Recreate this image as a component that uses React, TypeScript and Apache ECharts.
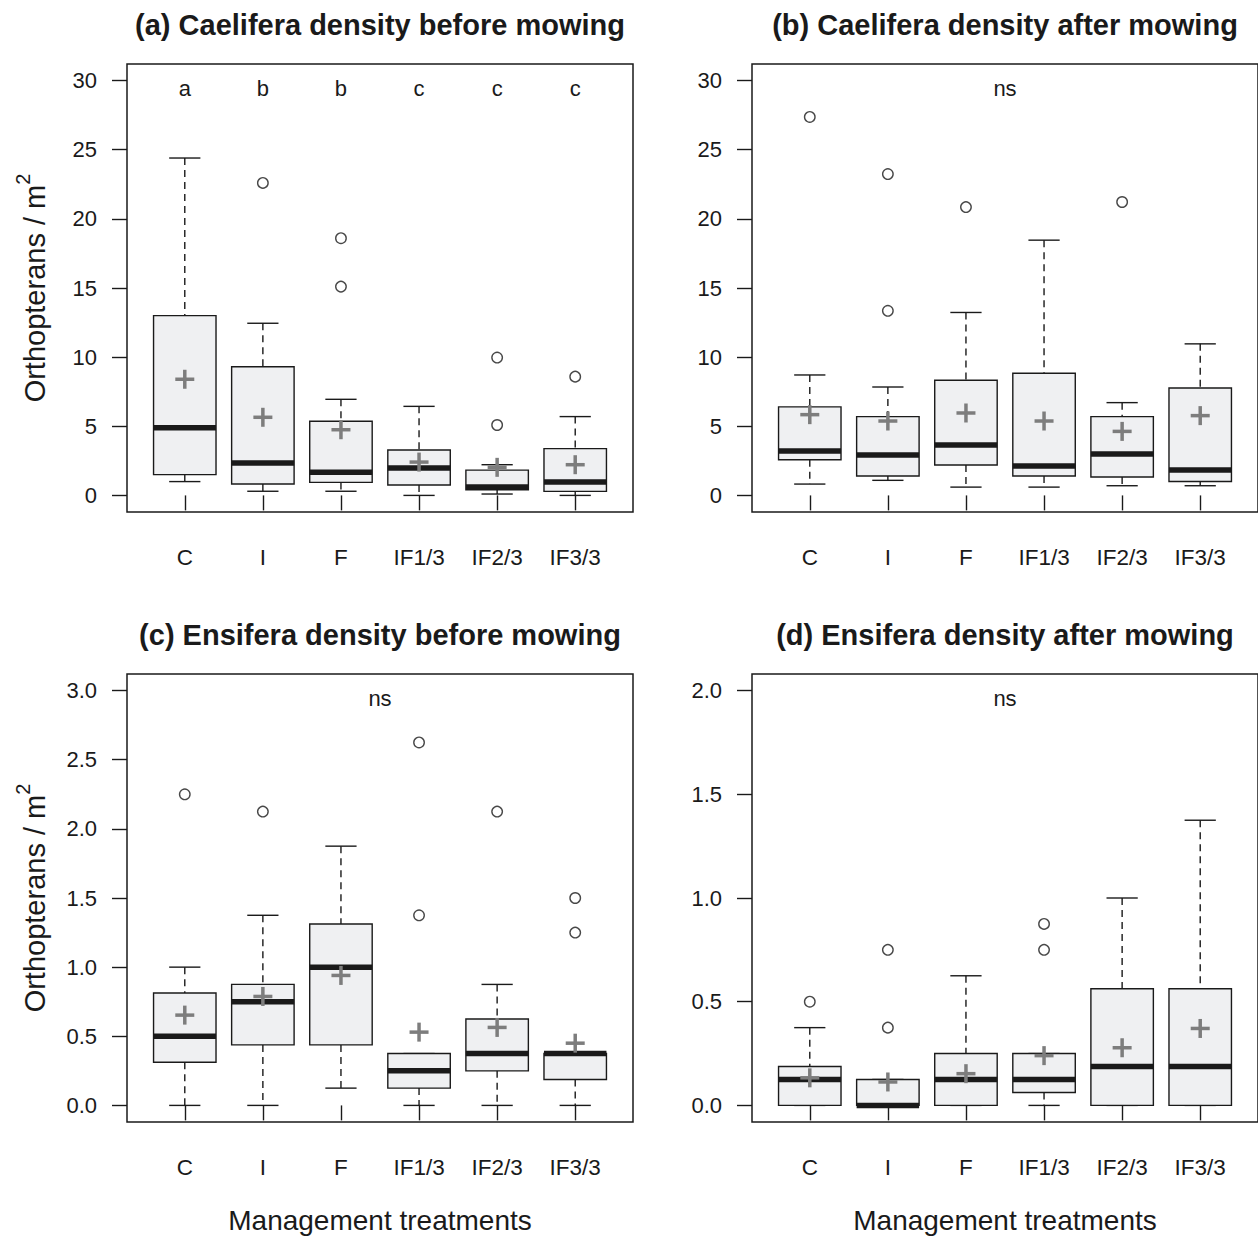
import React, { useEffect, useRef } from "react";
import * as echarts from "echarts";

// ---------- data ----------
const categories = ["C", "I", "F", "IF1/3", "IF2/3", "IF3/3"];

// [lower whisker, Q1, median, Q3, upper whisker]
const aBoxes = [
  [1.0, 1.5, 4.9, 13.0, 24.4],
  [0.3, 0.82, 2.35, 9.3, 12.45],
  [0.3, 0.94, 1.67, 5.36, 6.95],
  [0, 0.75, 1.98, 3.28, 6.44],
  [0.1, 0.41, 0.6, 1.83, 2.22],
  [0, 0.29, 0.97, 3.38, 5.7],
];
const aMeans = [8.4, 5.65, 4.75, 2.41, 2.03, 2.22];
const aOutliers = [[1, 22.6], [2, 18.6], [2, 15.1], [4, 9.97], [4, 5.09], [5, 8.59]];
const aLetters = ["a", "b", "b", "c", "c", "c"];

const bBoxes = [
  [0.82, 2.58, 3.21, 6.4, 8.71],
  [1.09, 1.4, 2.92, 5.7, 7.84],
  [0.6, 2.2, 3.64, 8.33, 13.23],
  [0.6, 1.4, 2.12, 8.83, 18.46],
  [0.7, 1.33, 2.99, 5.7, 6.71],
  [0.7, 1.01, 1.83, 7.77, 10.96],
];
const bMeans = [5.84, 5.38, 5.96, 5.38, 4.63, 5.77];
const bOutliers = [[0, 27.37], [1, 23.24], [1, 13.35], [2, 20.85], [4, 21.22]];

const cBoxes = [
  [0, 0.3125, 0.5, 0.8125, 1.0],
  [0, 0.4375, 0.75, 0.875, 1.375],
  [0.125, 0.4375, 1.0, 1.3125, 1.875],
  [0, 0.125, 0.25, 0.375, 0.375],
  [0, 0.25, 0.375, 0.625, 0.875],
  [0, 0.1875, 0.375, 0.375, 0.375],
];
const cMeans = [0.653, 0.788, 0.94, 0.53, 0.564, 0.45];
const cOutliers = [[0, 2.25], [1, 2.125], [3, 2.625], [3, 1.375], [4, 2.125], [5, 1.5], [5, 1.25]];

const dBoxes = [
  [0, 0, 0.125, 0.1875, 0.375],
  [0, 0, 0, 0.125, 0.125],
  [0, 0, 0.125, 0.25, 0.625],
  [0, 0.0625, 0.125, 0.25, 0.25],
  [0, 0, 0.1875, 0.5625, 1.0],
  [0, 0, 0.1875, 0.5625, 1.375],
];
const dMeans = [0.133, 0.113, 0.153, 0.24, 0.278, 0.371];
const dOutliers = [[0, 0.5], [1, 0.75], [1, 0.375], [3, 0.875], [3, 0.75]];

const titles = [
  "(a) Caelifera density before mowing",
  "(b) Caelifera density after mowing",
  "(c) Ensifera density before mowing",
  "(d) Ensifera density after mowing",
];
const yMaxes = [30, 30, 3, 2];
const yIntervals = [5, 5, 0.5, 0.5];
const yDecimals = [0, 0, 1, 1];
const xTitle = "Management treatments";

// ---------- styling / layout ----------
const FONT = "'Liberation Sans', Arial, Helvetica, sans-serif";
const INK = "#1a1a1a";
const BOXFILL = "#eff0f2";
const MEANCOL = "#7d7d7d";
const FRAME_W = 506;
const FRAME_H = 448;
const XPAD = FRAME_W * (0.24 / 6.48);
const YPAD = FRAME_H * (0.04 / 1.08);
const panelPos = [
  { left: 127, top: 64 },
  { left: 752, top: 64 },
  { left: 127, top: 674 },
  { left: 752, top: 674 },
];

function boxRender(params: any, api: any) {
  const i = api.value(0);
  const low = api.value(1);
  const q1 = api.value(2);
  const med = api.value(3);
  const q3 = api.value(4);
  const high = api.value(5);
  const mean = api.value(6);
  const band = api.size([1, 0])[0];
  const bw = band * 0.8;
  const cw = bw * 0.5;
  const pLow = api.coord([i, low]);
  const pQ1 = api.coord([i, q1]);
  const pMed = api.coord([i, med]);
  const pQ3 = api.coord([i, q3]);
  const pHigh = api.coord([i, high]);
  const pMean = api.coord([i, mean]);
  const cx = pMed[0];
  const lw = 1.4;
  const ch: any[] = [];
  if (high > q3) {
    ch.push({ type: "line", shape: { x1: cx, y1: pHigh[1], x2: cx, y2: pQ3[1] }, style: { stroke: INK, lineWidth: lw, lineDash: [7, 5] } });
  }
  if (low < q1) {
    ch.push({ type: "line", shape: { x1: cx, y1: pQ1[1], x2: cx, y2: pLow[1] }, style: { stroke: INK, lineWidth: lw, lineDash: [7, 5] } });
  }
  ch.push({ type: "line", shape: { x1: cx - cw / 2, y1: pHigh[1], x2: cx + cw / 2, y2: pHigh[1] }, style: { stroke: INK, lineWidth: lw } });
  ch.push({ type: "line", shape: { x1: cx - cw / 2, y1: pLow[1], x2: cx + cw / 2, y2: pLow[1] }, style: { stroke: INK, lineWidth: lw } });
  ch.push({
    type: "rect",
    shape: { x: cx - bw / 2, y: pQ3[1], width: bw, height: pQ1[1] - pQ3[1] },
    style: { fill: BOXFILL, stroke: INK, lineWidth: lw },
  });
  ch.push({ type: "line", shape: { x1: cx - bw / 2, y1: pMed[1], x2: cx + bw / 2, y2: pMed[1] }, style: { stroke: INK, lineWidth: 5.5 } });
  const m = 9.5;
  ch.push({ type: "line", shape: { x1: cx - m, y1: pMean[1], x2: cx + m, y2: pMean[1] }, style: { stroke: MEANCOL, lineWidth: 3.5 } });
  ch.push({ type: "line", shape: { x1: cx, y1: pMean[1] - m, x2: cx, y2: pMean[1] + m }, style: { stroke: MEANCOL, lineWidth: 3.5 } });
  return { type: "group", children: ch };
}

function buildOption() {
  const boxes = [aBoxes, bBoxes, cBoxes, dBoxes];
  const means = [aMeans, bMeans, cMeans, dMeans];
  const outliers = [aOutliers, bOutliers, cOutliers, dOutliers];
  const grid: any[] = [];
  const xAxis: any[] = [];
  const yAxis: any[] = [];
  const series: any[] = [];
  const graphic: any[] = [];

  panelPos.forEach((p, k) => {
    grid.push({
      left: p.left + XPAD,
      top: p.top + YPAD,
      width: FRAME_W - 2 * XPAD,
      height: FRAME_H - 2 * YPAD,
      containLabel: false,
    });
    xAxis.push({
      type: "category",
      gridIndex: k,
      data: categories,
      boundaryGap: true,
      offset: YPAD,
      axisLine: { show: false },
      axisTick: { show: true, alignWithLabel: true, length: 15, lineStyle: { color: INK, width: 1.4 } },
      axisLabel: { margin: 34, fontSize: 22.5, color: INK, fontFamily: FONT, interval: 0 },
      splitLine: { show: false },
    });
    yAxis.push({
      type: "value",
      gridIndex: k,
      min: 0,
      max: yMaxes[k],
      interval: yIntervals[k],
      offset: XPAD,
      axisLine: { show: false },
      axisTick: { show: true, length: 15, lineStyle: { color: INK, width: 1.4 } },
      axisLabel: {
        margin: 30,
        fontSize: 22,
        color: INK,
        fontFamily: FONT,
        showMinLabel: true,
        showMaxLabel: true,
        formatter: (v: number) => v.toFixed(yDecimals[k]),
      },
      splitLine: { show: false },
    });

    const data = boxes[k].map((b, i) => [i, b[0], b[1], b[2], b[3], b[4], means[k][i]]);
    series.push({
      type: "custom",
      xAxisIndex: k,
      yAxisIndex: k,
      renderItem: boxRender,
      data,
      z: 2,
    });
    series.push({
      type: "scatter",
      xAxisIndex: k,
      yAxisIndex: k,
      data: outliers[k],
      symbol: "circle",
      symbolSize: 10.5,
      itemStyle: { color: "rgba(0,0,0,0)", borderColor: INK, borderWidth: 1.4 },
      z: 3,
    });
    series.push({
      type: "custom",
      xAxisIndex: k,
      yAxisIndex: k,
      z: 5,
      data: (k === 0 ? aLetters.map((_, i) => [i, yMaxes[k] * 0.982]) : [[2, yMaxes[k] * 0.982]]),
      renderItem: (params: any, api: any) => {
        const pt = api.coord([api.value(0), api.value(1)]);
        const band = api.size([1, 0])[0];
        const isLetters = k === 0;
        return {
          type: "text",
          x: isLetters ? pt[0] : pt[0] + band / 2,
          y: pt[1],
          style: {
            text: isLetters ? aLetters[params.dataIndex] : "ns",
            fill: INK,
            fontSize: 22,
            fontFamily: FONT,
            align: "center",
            verticalAlign: "middle",
          },
        };
      },
    });

    // frame
    graphic.push({
      type: "rect",
      shape: { x: p.left, y: p.top, width: FRAME_W, height: FRAME_H },
      style: { fill: "none", stroke: INK, lineWidth: 1.5 },
      z: 10,
    });
    // title
    graphic.push({
      type: "text",
      x: p.left + FRAME_W / 2,
      y: p.top - 39,
      style: {
        text: titles[k],
        fill: INK,
        fontSize: 29,
        fontWeight: "bold",
        fontFamily: FONT,
        align: "center",
        verticalAlign: "middle",
      },
    });
    if (k % 2 === 0) {
      graphic.push({
        type: "text",
        x: 31,
        y: p.top + FRAME_H / 2,
        rotation: Math.PI / 2,
        style: {
          text: "{a|Orthopterans / m}{b|2}",
          align: "center",
          verticalAlign: "middle",
          rich: {
            a: { fontSize: 29, fontFamily: FONT, fill: INK, lineHeight: 36, verticalAlign: "bottom" },
            b: { fontSize: 20, fontFamily: FONT, fill: INK, lineHeight: 20, verticalAlign: "top" },
          },
        },
      });
    }
    if (k >= 2) {
      graphic.push({
        type: "text",
        x: p.left + FRAME_W / 2,
        y: 1220,
        style: {
          text: xTitle,
          fill: INK,
          fontSize: 28,
          fontFamily: FONT,
          align: "center",
          verticalAlign: "middle",
        },
      });
    }
  });

  return {
    animation: false,
    backgroundColor: "#ffffff",
    grid,
    xAxis,
    yAxis,
    series,
    graphic,
  };
}

export default function App() {
  const ref = useRef<HTMLDivElement>(null);
  useEffect(() => {
    if (!ref.current) return;
    const chart = echarts.init(ref.current, undefined, { renderer: "svg" });
    chart.setOption(buildOption() as any);
    return () => chart.dispose();
  }, []);
  return (
    <div
      ref={ref}
      style={{ position: "absolute", left: 0, top: 0, width: 1258, height: 1239, background: "#fff" }}
    />
  );
}
